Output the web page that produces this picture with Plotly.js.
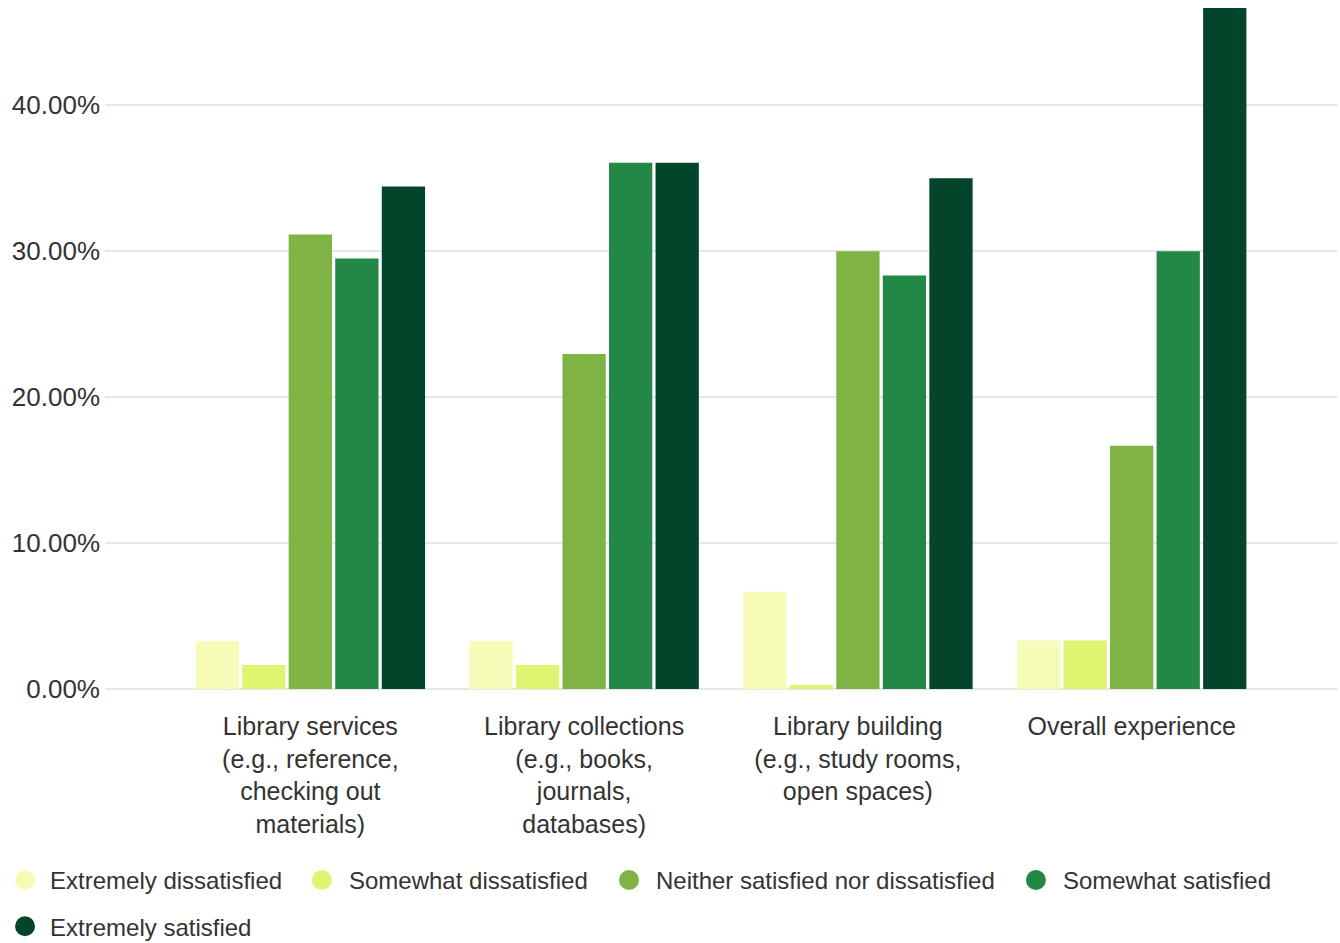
<!DOCTYPE html>
<html>
<head>
<meta charset="utf-8">
<script src="https://cdn.plot.ly/plotly-3.0.1.min.js"></script>
<style>html,body{margin:0;padding:0;background:#fff;}#chart{width:1340px;height:943px;}</style>
</head>
<body>
<div id="chart"></div>
<script>
const categories = [
  "Library services<br>(e.g., reference,<br>checking out<br>materials)",
  "Library collections<br>(e.g., books,<br>journals,<br>databases)",
  "Library building<br>(e.g., study rooms,<br>open spaces)",
  "Overall experience"
];
const seriesNames = [
  "Extremely dissatisfied",
  "Somewhat dissatisfied",
  "Neither satisfied nor dissatisfied",
  "Somewhat satisfied",
  "Extremely satisfied"
];
const extremelyDissatisfied = [3.28, 3.28, 6.67, 3.33];
const somewhatDissatisfied = [1.64, 1.64, 0.27, 3.33];
const neither = [31.15, 22.95, 30.00, 16.67];
const somewhatSatisfied = [29.51, 36.07, 28.33, 30.00];
const extremelySatisfied = [34.43, 36.07, 35.00, 46.67];
const seriesValues = [extremelyDissatisfied, somewhatDissatisfied, neither, somewhatSatisfied, extremelySatisfied];
const colors = ["#f6fbb8", "#e0f471", "#7fb343", "#238745", "#03452b"];

const font = "Liberation Sans, Arial, sans-serif";
const legendIds = ["legend", "legend2", "legend3", "legend4", "legend5"];

const barTraces = seriesNames.map((name, i) => ({
  type: "bar",
  name: name,
  x: categories,
  y: seriesValues[i],
  marker: {color: colors[i]},
  legendgroup: "g" + i,
  showlegend: false,
  hoverinfo: "skip"
}));

// legend-only entries with circular symbols
const legendTraces = seriesNames.map((name, i) => ({
  type: "scatter",
  mode: "markers",
  name: name,
  x: [null],
  y: [null],
  marker: {color: colors[i], size: 16, symbol: "circle", line: {color: colors[i], width: 4}},
  legendgroup: "g" + i,
  legend: legendIds[i],
  showlegend: true,
  hoverinfo: "skip"
}));

function mkLegend(x, y, itemwidth) {
  return {
    orientation: "h",
    x: x,
    xanchor: "left",
    y: y,
    yanchor: "middle",
    font: {size: 24, color: "#333", family: font},
    itemsizing: "trace",
    itemwidth: itemwidth,
    bgcolor: "rgba(0,0,0,0)"
  };
}

const row1 = -0.281, row2 = -0.349;
const layout = {
  width: 1340,
  height: 943,
  margin: {l: 105, r: 3, t: 8, b: 254, autoexpand: false},
  paper_bgcolor: "#fff",
  plot_bgcolor: "#fff",
  barmode: "group",
  bargap: 0.15,
  bargroupgap: 0.07,
  font: {family: font, color: "#333", size: 22},
  xaxis: {
    type: "category",
    range: [-0.75, 3.75],
    automargin: false,
    showgrid: false,
    showline: false,
    zeroline: false,
    ticks: "",
    ticklabelstandoff: 20,
    tickfont: {size: 25, color: "#333", family: font}
  },
  yaxis: {
    range: [0, 46.67],
    automargin: false,
    dtick: 10,
    tickformat: ".2f",
    ticksuffix: "%",
    showgrid: true,
    gridcolor: "#e6e6e6",
    gridwidth: 2,
    zeroline: true,
    zerolinecolor: "#e6e6e6",
    zerolinewidth: 2,
    showline: false,
    ticks: "",
    ticklabelstandoff: 4,
    tickfont: {size: 26, color: "#333", family: font}
  },
  showlegend: true,
  legend: mkLegend(-0.0852, row1, 40),
  legend2: mkLegend(0.1542, row1, 44),
  legend3: mkLegend(0.4034, row1, 44),
  legend4: mkLegend(0.7337, row1, 44),
  legend5: mkLegend(-0.0852, row2, 40)
};

Plotly.newPlot("chart", barTraces.concat(legendTraces), layout, {displayModeBar: false, staticPlot: true});
</script>
</body>
</html>
